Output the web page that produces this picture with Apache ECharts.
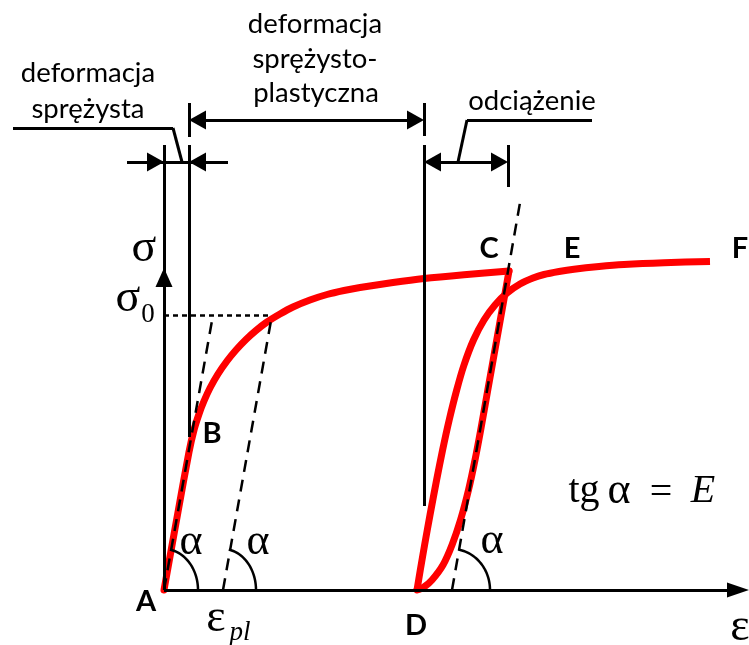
<!DOCTYPE html>
<html>
<head>
<meta charset="utf-8">
<script src="https://cdn.jsdelivr.net/npm/echarts@6/dist/echarts.min.js"></script>
<style>
  html, body { margin: 0; padding: 0; background: #ffffff; }
  #chart { width: 749px; height: 645px; }
</style>
</head>
<body>
<div id="chart"></div>
<script>
// Schematic σ–ε diagram. Strain and stress are in drawing units (1 unit = 1 px),
// origin at point A.

// Loading path A → B → C
const loadingStrain = [0, 14, 25, 30, 35, 40, 46, 54, 63, 72, 82, 92, 103, 116, 129, 146, 163, 180, 196, 229, 260, 300, 345];
const loadingStress = [0, 78, 138, 160, 176, 189, 202, 216, 229, 240, 250.5, 259.5, 268, 276, 283, 290, 295.5, 299.5, 302.5, 307.5, 311.5, 315.3, 319];
// Unloading path C → D
const unloadingStrain = [345, 334.5, 323.8, 316.7, 311, 304.5, 296.5, 288, 279, 268, 260, 253];
const unloadingStress = [319, 260, 200, 160, 130, 100, 70, 45, 25, 10, 3, 0];
// Reloading path D → E → F
const reloadingStrain = [253, 256.3, 260.6, 266, 272.6, 278.6, 285.2, 292.7, 300, 309.5, 320, 331, 343, 356, 369, 380, 395, 410, 435, 460, 500, 546];
const reloadingStress = [0, 20, 45, 75, 110, 140, 170, 200, 225, 250, 270, 285, 297, 306, 312, 315.5, 318.5, 320.8, 323.5, 325.5, 327.3, 328.5];

// Yield stress σ0 and the elastic lines (slope E): foot on the ε axis, upper end
const sigma0 = 275;
const elasticFoot = [0, 59, 288];
const elasticTopStrain = [49, 108, 357];
const elasticTopStress = [275, 275, 393];

const zip = (xs, ys) => xs.map((x, i) => [x, ys[i]]);

// ---- annotation geometry (dimension lines, extension lines, axes) ----
const ARROW_LEN = 17, ARROW_W = 19;
const half = ARROW_LEN / 2;
function seg(a, b, startArrow, endArrow, size) {
  const s = size || [ARROW_W, ARROW_LEN];
  return [
    Object.assign({ coord: a }, startArrow ? { symbol: 'triangle', symbolSize: s } : { symbol: 'none' }),
    Object.assign({ coord: b }, endArrow ? { symbol: 'triangle', symbolSize: s } : { symbol: 'none' })
  ];
}

const solidLines = [
  // ε axis with arrow
  seg([0, 0], [574, 0], false, true, [15, 22]),
  // σ axis with arrow, continuing up as an extension line
  seg([0, 0], [0, 312.5], false, true, [17, 19]),
  seg([0, 312.5], [0, 445]),
  // extension lines
  seg([25, 153], [25, 445]),
  seg([25, 453], [25, 487]),
  seg([260, 84], [260, 445]),
  seg([260, 454], [260, 487]),
  seg([344, 403], [344, 445]),
  // elastic strain: arrows pointing inward
  seg([-37, 428], [-half, 428], false, true),
  seg([64, 428], [25 + half, 428], false, true),
  seg([-half, 428], [25 + half, 428]),
  // elastic-plastic strain
  seg([25 + half, 470], [260 - half, 470], true, true),
  // unloading
  seg([260 + half, 428], [344 - half, 428], true, true),
  // leaders
  seg([-151, 462], [9, 462]),
  seg([9, 462], [18, 428]),
  seg([294, 428], [303, 470]),
  seg([303, 470], [428, 470])
];

const dashedLines = elasticFoot.map((f, i) => seg([f, 0], [elasticTopStrain[i], elasticTopStress[i]]));
const sigma0Line = [seg([0, sigma0], [elasticTopStrain[1], sigma0])];

const ARC_RX = [34, 33, 38], ARC_RY = 41;

const SANS = 'Lato, "Open Sans", sans-serif';
const SERIF = '"Liberation Serif", "DejaVu Serif", serif';
function txt(text, x, y, font) {
  return {
    type: 'text', x: x, y: y, silent: true, z: 100,
    style: { text: text, font: font, fill: '#000', textAlign: 'center', verticalAlign: 'middle', textVerticalAlign: 'middle' }
  };
}

const redStyle = { color: '#ff0000', width: 7, cap: 'round', join: 'round' };

const chart = echarts.init(document.getElementById('chart'), null, { renderer: 'canvas' });
chart.setOption({
  animation: false,
  backgroundColor: '#ffffff',
  grid: { left: 0, right: 0, top: 0, bottom: 0 },
  xAxis: { type: 'value', min: -164, max: 585, show: false },
  yAxis: { type: 'value', min: -55, max: 590, show: false },
  series: [
    { type: 'line', name: 'loading', data: zip(loadingStrain, loadingStress), smooth: 0.25,
      symbol: 'none', lineStyle: redStyle, z: 2, silent: true, clip: false },
    { type: 'line', name: 'unloading', data: zip(unloadingStrain, unloadingStress), smooth: 0.25,
      symbol: 'none', lineStyle: redStyle, z: 2, silent: true, clip: false },
    { type: 'line', name: 'reloading', data: zip(reloadingStrain, reloadingStress), smooth: 0.25,
      symbol: 'none', lineStyle: Object.assign({}, redStyle, { cap: 'butt' }), z: 2, silent: true, clip: false },
    { type: 'line', data: [], z: 4, silent: true,
      markLine: { silent: true, animation: false, symbol: ['none', 'none'], label: { show: false },
        emphasis: { disabled: true },
        lineStyle: { color: '#000', width: 3, type: 'solid' }, data: solidLines } },
    { type: 'line', data: [], z: 5, silent: true,
      markLine: { silent: true, animation: false, symbol: ['none', 'none'], label: { show: false },
        emphasis: { disabled: true },
        lineStyle: { color: '#000', width: 2.5, type: [12, 8] }, data: dashedLines } },
    { type: 'line', data: [], z: 5, silent: true,
      markLine: { silent: true, animation: false, symbol: ['none', 'none'], label: { show: false },
        emphasis: { disabled: true },
        lineStyle: { color: '#000', width: 2.5, type: [5, 4] }, data: sigma0Line } },
    { type: 'custom', z: 6, silent: true,
      data: elasticFoot.map((f, i) => [f, elasticTopStrain[i], elasticTopStress[i]]),
      encode: { x: 0, y: 2 },
      renderItem: function (params, api) {
        const c = api.coord([api.value(0), 0]);
        const top = api.coord([api.value(1), api.value(2)]);
        const theta = Math.atan2(c[1] - top[1], top[0] - c[0]);
        const rx = ARC_RX[params.dataIndex];
        const pts = [];
        for (let k = 0; k <= 30; k++) {
          const t = theta * k / 30;
          pts.push([c[0] + rx * Math.cos(t), c[1] - ARC_RY * Math.sin(t)]);
        }
        return { type: 'polyline', shape: { points: pts }, style: { stroke: '#000', lineWidth: 2.5, fill: null } };
      } }
  ],
  graphic: [
    txt('deformacja', 88, 73, '27.5px ' + SANS),
    txt('sprężysta', 88, 109, '27.5px ' + SANS),
    txt('deformacja', 315, 24, '27.5px ' + SANS),
    txt('sprężysto-', 315, 59, '27.5px ' + SANS),
    txt('plastyczna', 316, 93, '27.5px ' + SANS),
    txt('odciążenie', 532, 101, '27.5px ' + SANS),
    txt('A', 146, 602, 'bold 29px ' + SANS),
    txt('B', 212, 434, 'bold 29px ' + SANS),
    txt('C', 489, 249, 'bold 29px ' + SANS),
    txt('E', 572, 249, 'bold 29px ' + SANS),
    txt('F', 740, 249, 'bold 29px ' + SANS),
    txt('D', 416, 626, 'bold 29px ' + SANS),
    txt('σ', 144, 249, '46px ' + SERIF),
    txt('σ', 128, 299, '46px ' + SERIF),
    txt('0', 148, 315, '27px ' + SERIF),
    txt('α', 191, 542, '44px ' + SERIF),
    txt('α', 258, 542, '44px ' + SERIF),
    txt('α', 492, 541, '44px ' + SERIF),
    txt('ε', 216, 619, '46px ' + SERIF),
    txt('pl', 240, 633, 'italic 27px ' + SERIF),
    txt('ε', 740, 628, '46px ' + SERIF),
    txt('tg', 584, 491, '40px ' + SERIF),
    txt('α', 619, 491, '44px ' + SERIF),
    txt('=', 661, 493, '40px ' + SERIF),
    txt('E', 703, 491, 'italic 40px ' + SERIF)
  ]
});
</script>
</body>
</html>
